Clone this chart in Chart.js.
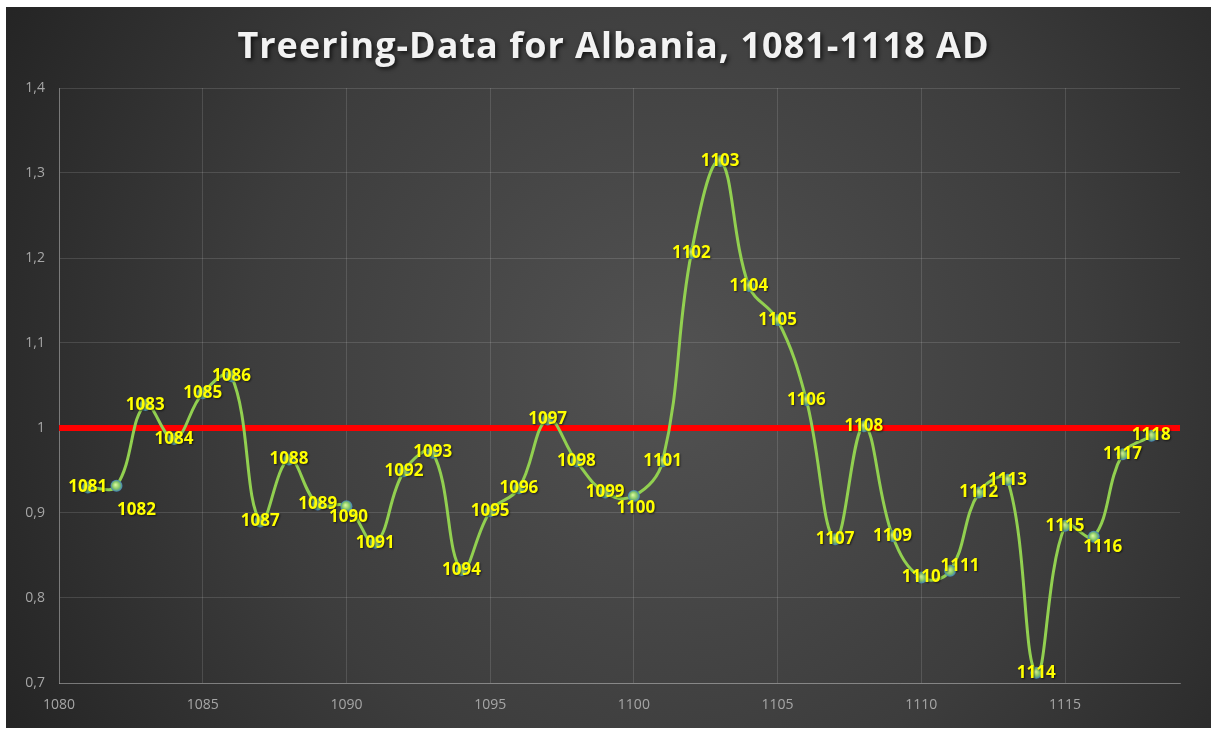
<!DOCTYPE html>
<html>
<head>
<meta charset="utf-8">
<script src="https://cdn.jsdelivr.net/npm/chart.js@4/dist/chart.umd.min.js"></script>
<style>
  html, body { margin: 0; padding: 0; background: #ffffff; }
  #wrap { position: absolute; left: 6px; top: 7px; width: 1205px; height: 721px; }
</style>
</head>
<body>
<div id="wrap"><canvas id="treeChart"></canvas></div>
<script>
const titleText = "Treering-Data for Albania, 1081-1118 AD";
const years = [1081, 1082, 1083, 1084, 1085, 1086, 1087, 1088, 1089, 1090,
  1091, 1092, 1093, 1094, 1095, 1096, 1097, 1098, 1099, 1100,
  1101, 1102, 1103, 1104, 1105, 1106, 1107, 1108, 1109, 1110,
  1111, 1112, 1113, 1114, 1115, 1116, 1117, 1118];
const ringIndex = [0.930, 0.932, 1.027, 0.987, 1.041, 1.061, 0.890, 0.963, 0.910, 0.908,
  0.865, 0.949, 0.971, 0.833, 0.902, 0.929, 1.010, 0.961, 0.924, 0.920,
  0.961, 1.206, 1.314, 1.167, 1.127, 1.033, 0.869, 1.002, 0.873, 0.824,
  0.832, 0.924, 0.939, 0.712, 0.885, 0.872, 0.969, 0.991];
const referenceYears = [1080, 1119];
const referenceLevel = [1, 1];
const xTicks = [1080, 1085, 1090, 1095, 1100, 1105, 1110, 1115];
const yTicks = [0.7, 0.8, 0.9, 1.0, 1.1, 1.2, 1.3, 1.4];

// a few labels sit beside their point instead of on it
const labelShift = { 1082: [20, 24], 1090: [2, 11], 1100: [2, 12], 1111: [10, -5], 1116: [9, 10] };

const backgroundPlugin = {
  id: "bg",
  beforeDraw(chart) {
    const c = chart.ctx;
    const w = chart.width, h = chart.height;
    const g = c.createRadialGradient(w * 0.55, h * 0.5, 20, w * 0.55, h * 0.5, w * 0.62);
    g.addColorStop(0, "#515151");
    g.addColorStop(0.55, "#3d3d3d");
    g.addColorStop(1, "#252525");
    c.save();
    c.fillStyle = g;
    c.fillRect(0, 0, w, h);
    c.restore();
  }
};

const titlePlugin = {
  id: "titleText",
  afterDraw(chart) {
    const c = chart.ctx;
    c.save();
    c.font = "bold 36px 'Open Sans'";
    c.letterSpacing = "1px";
    c.textAlign = "center";
    c.textBaseline = "middle";
    c.shadowColor = "rgba(0,0,0,0.7)";
    c.shadowBlur = 4;
    c.shadowOffsetX = 2;
    c.shadowOffsetY = 2;
    c.fillStyle = "#f2f2f2";
    c.fillText(titleText, chart.width / 2 + 5, 41);
    c.restore();
  }
};

const beadPlugin = {
  id: "beads",
  afterDatasetsDraw(chart) {
    const c = chart.ctx;
    const meta = chart.getDatasetMeta(0);
    c.save();
    meta.data.forEach((pt) => {
      const g = c.createRadialGradient(pt.x - 1, pt.y - 1, 0.5, pt.x, pt.y, 6);
      g.addColorStop(0, "#d4f59a");
      g.addColorStop(0.55, "#86c866");
      g.addColorStop(1, "#3d7fb8");
      c.beginPath();
      c.arc(pt.x, pt.y, 6, 0, Math.PI * 2);
      c.fillStyle = g;
      c.fill();
    });
    c.font = "bold 17px 'Open Sans'";
    c.textAlign = "center";
    c.textBaseline = "middle";
    c.shadowColor = "rgba(0,0,0,0.6)";
    c.shadowBlur = 2;
    c.shadowOffsetX = 1;
    c.shadowOffsetY = 1;
    c.fillStyle = "#ffff00";
    meta.data.forEach((pt, i) => {
      const s = labelShift[years[i]] || [0, 0];
      c.fillText(String(years[i]), pt.x + s[0], pt.y + s[1]);
    });
    c.restore();
  }
};

const ctx = document.getElementById("treeChart");
new Chart(ctx, {
  type: "line",
  data: {
    datasets: [
      {
        label: "Treering index",
        data: years.map((y, i) => ({ x: y, y: ringIndex[i] })),
        borderColor: "#92d050",
        borderWidth: 3,
        tension: 0.4,
        pointRadius: 0,
        order: 1,
      },
      {
        label: "Reference",
        data: referenceYears.map((y, i) => ({ x: y, y: referenceLevel[i] })),
        borderColor: "#ff0000",
        borderWidth: 6,
        pointRadius: 0,
        order: 2,
      },
    ],
  },
  options: {
    responsive: true,
    maintainAspectRatio: false,
    animation: false,
    layout: { padding: { top: 81, right: 31, bottom: 0, left: 0 } },
    plugins: {
      legend: { display: false },
      tooltip: { enabled: false },
    },
    scales: {
      x: {
        type: "linear",
        min: 1080,
        max: 1119,
        afterBuildTicks: (scale) => {
          scale.ticks = xTicks.map((v) => ({ value: v }));
        },
        afterFit: (scale) => { scale.height = 45; },
        ticks: {
          color: "#a6a6a6",
          font: { family: "'Open Sans'", size: 14 },
          padding: 14,
          callback: (v) => String(v),
        },
        grid: { color: "rgba(255,255,255,0.13)", drawTicks: false },
        border: { color: "rgba(255,255,255,0.28)" },
      },
      y: {
        min: 0.7,
        max: 1.4,
        afterBuildTicks: (scale) => {
          scale.ticks = yTicks.map((v) => ({ value: v }));
        },
        afterFit: (scale) => { scale.width = 53; },
        ticks: {
          color: "#a6a6a6",
          font: { family: "'Open Sans'", size: 14 },
          padding: 14,
          callback: (v) => String(Number(v.toFixed(1))).replace(".", ","),
        },
        grid: { color: "rgba(255,255,255,0.13)", drawTicks: false },
        border: { color: "rgba(255,255,255,0.28)" },
      },
    },
  },
  plugins: [backgroundPlugin, beadPlugin, titlePlugin],
});
</script>
</body>
</html>
